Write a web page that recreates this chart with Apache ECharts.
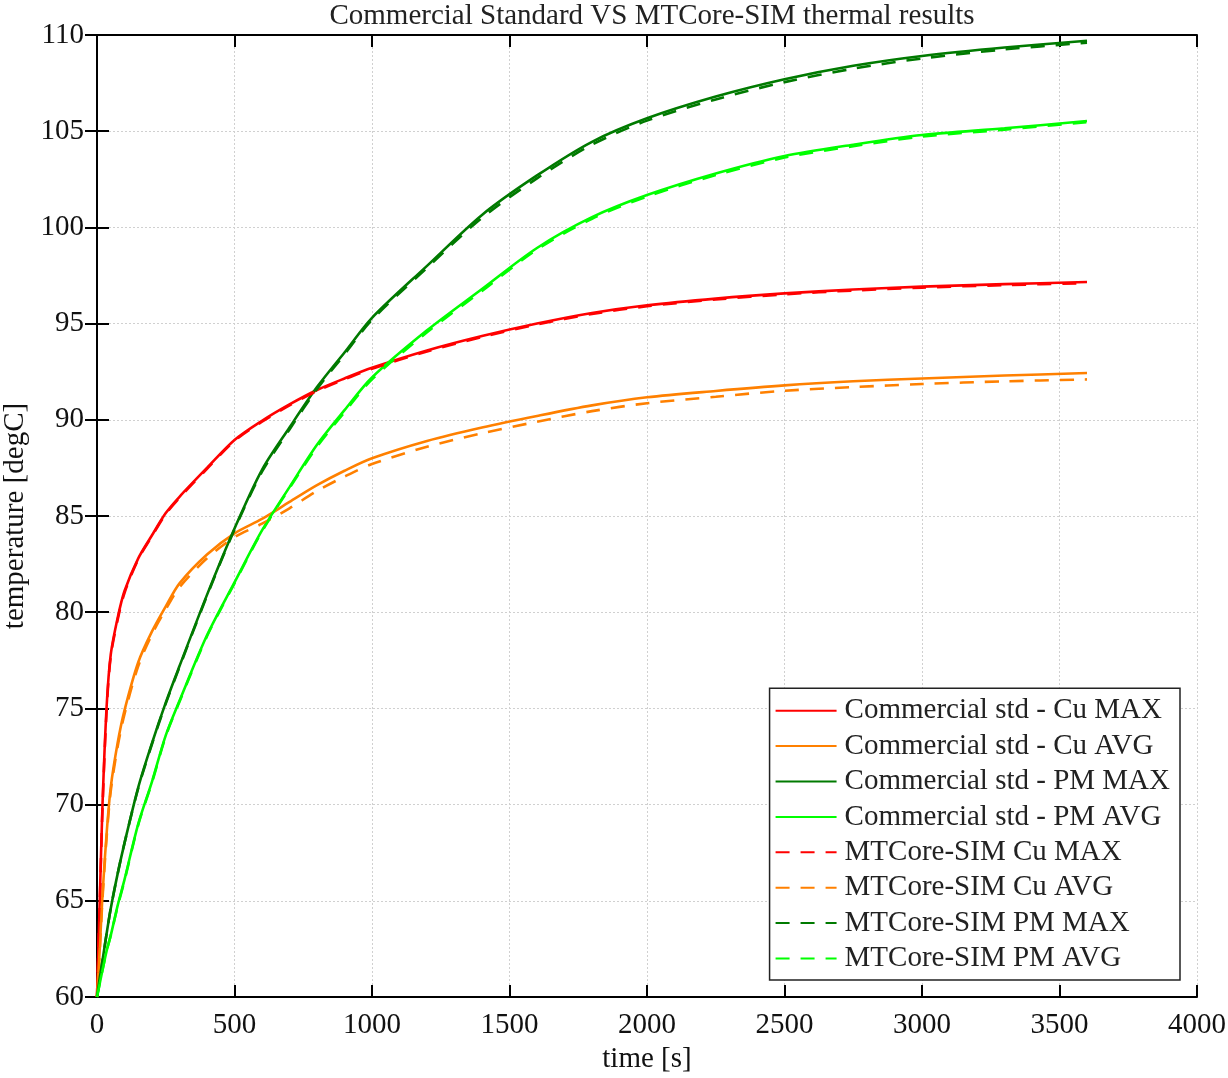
<!DOCTYPE html>
<html>
<head>
<meta charset="utf-8">
<script src="https://cdn.jsdelivr.net/npm/echarts@6/dist/echarts.min.js"></script>
<style>
  html, body { margin: 0; padding: 0; background: #fff; }
  #box1 { width: 1228px; height: 1078px; }
</style>
</head>
<body>
<div id="box1"></div>
<script>
var myChart = echarts.init(document.getElementById('box1'))

// time samples [s]
let time = [0, 10, 20, 35, 50, 75, 100, 150, 200, 250, 300, 400, 500, 600, 700, 800, 900, 1000,
    1200, 1400, 1600, 1800, 2000, 2250, 2500, 2750, 3000, 3300, 3600];

// Commercial standard
let stdCuMax = [60, 65, 70, 75.1, 77.8, 79.7, 81.1, 82.8, 84.0, 85.15, 86.0, 87.5, 88.95, 89.95, 90.8, 91.55, 92.15, 92.7,
    93.6, 94.35, 95.0, 95.55, 95.95, 96.3, 96.57, 96.77, 96.92, 97.05, 97.16];
let stdCuAvg = [60, 62.5, 65.3, 68.5, 70.9, 73.2, 74.9, 77.4, 79.0, 80.3, 81.5, 83.0, 84.1, 84.85, 85.73, 86.6, 87.35, 88.0,
    88.9, 89.6, 90.2, 90.75, 91.17, 91.5, 91.79, 92.0, 92.15, 92.3, 92.43];
let stdPmMax = [60, 61.0, 61.9, 63.3, 64.6, 66.4, 68.0, 70.9, 73.2, 75.3, 77.2, 80.9, 84.35, 87.4, 89.6, 91.7, 93.5, 95.3,
    98.0, 100.65, 102.7, 104.45, 105.67, 106.8, 107.7, 108.4, 108.91, 109.35, 109.7];
let stdPmAvg = [60, 60.7, 61.4, 62.4, 63.2, 64.75, 66.1, 69.0, 71.2, 73.6, 75.4, 78.8, 81.55, 84.25, 86.5, 88.7, 90.5, 92.2,
    94.65, 96.8, 98.93, 100.53, 101.68, 102.8, 103.71, 104.3, 104.8, 105.15, 105.53];

// MTCore-SIM
let simCuMax = [60, 64.8, 69.8, 74.9, 77.7, 79.6, 81.0, 82.75, 83.95, 85.1, 85.95, 87.45, 88.9, 89.9, 90.75, 91.5, 92.1, 92.65,
    93.55, 94.3, 94.95, 95.5, 95.9, 96.25, 96.52, 96.72, 96.87, 97.0, 97.1];
let simCuAvg = [60, 62.4, 65.1, 68.3, 70.7, 73.0, 74.7, 77.2, 78.85, 80.15, 81.3, 82.8, 83.9, 84.6, 85.4, 86.3, 87.05, 87.7,
    88.6, 89.3, 89.9, 90.45, 90.86, 91.2, 91.51, 91.7, 91.86, 92.0, 92.1];
let simPmMax = [60, 61.0, 61.9, 63.3, 64.6, 66.4, 68.0, 70.85, 73.15, 75.25, 77.15, 80.85, 84.3, 87.3, 89.5, 91.6, 93.4, 95.2,
    97.9, 100.5, 102.55, 104.3, 105.55, 106.65, 107.55, 108.25, 108.78, 109.25, 109.6];
let simPmAvg = [60, 60.7, 61.4, 62.4, 63.2, 64.7, 66.05, 68.95, 71.15, 73.55, 75.35, 78.75, 81.5, 84.2, 86.45, 88.6, 90.4, 92.1,
    94.55, 96.7, 98.85, 100.45, 101.6, 102.72, 103.63, 104.22, 104.72, 105.08, 105.47];

let names = ['Commercial std - Cu MAX', 'Commercial std - Cu AVG', 'Commercial std - PM MAX', 'Commercial std - PM AVG',
    'MTCore-SIM Cu MAX', 'MTCore-SIM Cu AVG', 'MTCore-SIM PM MAX', 'MTCore-SIM PM AVG'];
let values = [stdCuMax, stdCuAvg, stdPmMax, stdPmAvg, simCuMax, simCuAvg, simPmMax, simPmAvg];
let colors = ['#ff0000', '#ff8000', '#007a00', '#00ff00', '#ff0000', '#ff8000', '#007a00', '#00ff00'];

function pairs(v) {
    return time.map(function (t, i) { return [t, v[i]]; });
}

let font = '"Liberation Serif", "Times New Roman", serif';

let series = names.map(function (n, k) {
    return {
        name: n,
        type: 'line',
        showSymbol: false,
        symbol: 'none',
        smooth: 0.3,
        z: k < 4 ? 2 : 3,
        lineStyle: {
            color: colors[k],
            width: 2.6,
            type: k < 4 ? 'solid' : [14, 11]
        },
        itemStyle: { color: colors[k] },
        data: pairs(values[k])
    };
});

let gridLine = { show: true, lineStyle: { color: '#d0d0d0', type: [2, 2], width: 1 } };
let axisText = { color: '#111', fontFamily: font, fontSize: 29 };
let plain = function (v) { return String(v); };

option = {
    animation: false,
    backgroundColor: '#fff',
    title: {
        text: 'Commercial Standard VS MTCore-SIM thermal results',
        left: 647,
        textAlign: 'center',
        top: -3,
        textStyle: { fontFamily: font, fontWeight: 'normal', fontSize: 29, color: '#222' }
    },
    grid: {
        left: 97,
        right: 31,
        top: 35,
        bottom: 81,
        containLabel: false,
        outerBoundsMode: 'none'
    },
    legend: {
        orient: 'vertical',
        right: 48,
        bottom: 98,
        itemWidth: 61,
        itemHeight: 14,
        itemGap: 6.4,
        padding: [8, 10, 7, 5],
        borderColor: '#222',
        borderWidth: 1.5,
        borderRadius: 0,
        backgroundColor: '#fff',
        itemStyle: { opacity: 0 },
        textStyle: { fontFamily: font, fontSize: 29, lineHeight: 28, color: '#222', padding: [0, 0, 0, 3] },
        data: names
    },
    xAxis: [{
        type: 'value',
        min: 0,
        max: 4000,
        interval: 500,
        name: 'time [s]',
        nameLocation: 'middle',
        nameGap: 48,
        nameTextStyle: axisText,
        axisLine: { lineStyle: { color: '#000', width: 2 } },
        axisTick: { inside: true, length: 12, lineStyle: { color: '#000', width: 2 } },
        axisLabel: Object.assign({ margin: 14, formatter: plain }, axisText),
        splitLine: gridLine
    }, {
        type: 'value',
        position: 'top',
        min: 0,
        max: 4000,
        interval: 500,
        axisLine: { show: true, lineStyle: { color: '#000', width: 2 } },
        axisTick: { show: true, inside: true, length: 12, lineStyle: { color: '#000', width: 2 } },
        axisLabel: { show: false },
        splitLine: { show: false }
    }],
    yAxis: [{
        type: 'value',
        min: 60,
        max: 110,
        interval: 5,
        name: 'temperature [degC]',
        nameLocation: 'middle',
        nameGap: 65,
        nameTextStyle: axisText,
        axisLine: { show: true, lineStyle: { color: '#000', width: 2 } },
        axisTick: { show: true, inside: true, length: 12, lineStyle: { color: '#000', width: 2 } },
        axisLabel: Object.assign({ margin: 13, formatter: plain }, axisText),
        splitLine: gridLine
    }, {
        type: 'value',
        position: 'right',
        min: 60,
        max: 110,
        interval: 5,
        axisLine: { show: true, lineStyle: { color: '#000', width: 2 } },
        axisTick: { show: true, inside: true, length: 12, lineStyle: { color: '#000', width: 2 } },
        axisLabel: { show: false },
        splitLine: { show: false }
    }],
    series: series
};
myChart.setOption(option);
</script>
</body>
</html>
